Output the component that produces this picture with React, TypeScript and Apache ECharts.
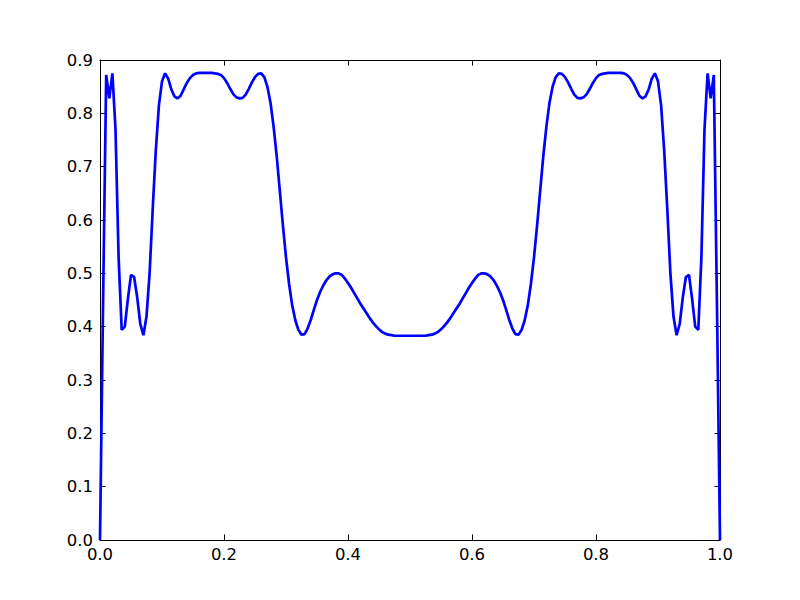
import React, { useEffect, useRef } from "react";
import * as echarts from "echarts";

// sample positions: 0 to 1 in steps of 0.005 (201 samples)
const X_STEP = 0.005;
const X_COUNT = 201;

const Y_VALUES: number[] = [
  0, 0.45, 0.872, 0.828, 0.875, 0.77, 0.53, 0.394, 0.40, 0.452,
  0.497, 0.493, 0.455, 0.405, 0.384, 0.419, 0.50, 0.62, 0.73, 0.815,
  0.86, 0.875, 0.865, 0.845, 0.832, 0.828, 0.833, 0.845, 0.857, 0.866,
  0.872, 0.875, 0.876, 0.876, 0.876, 0.876, 0.876, 0.875, 0.874, 0.872,
  0.866, 0.857, 0.846, 0.836, 0.83, 0.828, 0.829, 0.835, 0.846, 0.858,
  0.868, 0.874, 0.875, 0.868, 0.85, 0.82, 0.775, 0.72, 0.655, 0.59,
  0.53, 0.48, 0.44, 0.412, 0.394, 0.385, 0.386, 0.397, 0.413, 0.432,
  0.45, 0.465, 0.477, 0.487, 0.494, 0.498, 0.5, 0.5, 0.497, 0.49,
  0.482, 0.473, 0.463, 0.453, 0.443, 0.434, 0.425, 0.416, 0.408, 0.401,
  0.395, 0.39, 0.387, 0.385, 0.384, 0.383, 0.383, 0.383, 0.383, 0.383,
  0.383,
  0.383, 0.383, 0.383, 0.383, 0.383, 0.384, 0.385, 0.387, 0.39, 0.395,
  0.401, 0.408, 0.416, 0.425, 0.434, 0.443, 0.453, 0.463, 0.473, 0.482,
  0.49, 0.497, 0.5, 0.5, 0.498, 0.494, 0.487, 0.477, 0.465, 0.45,
  0.432, 0.413, 0.397, 0.386, 0.385, 0.394, 0.412, 0.44, 0.48, 0.53,
  0.59, 0.655, 0.72, 0.775, 0.82, 0.85, 0.868, 0.875, 0.874, 0.868,
  0.858, 0.846, 0.835, 0.829, 0.828, 0.83, 0.836, 0.846, 0.857, 0.866,
  0.872, 0.874, 0.875, 0.876, 0.876, 0.876, 0.876, 0.876, 0.875, 0.872,
  0.866, 0.857, 0.845, 0.833, 0.828, 0.832, 0.845, 0.865, 0.875, 0.86,
  0.815, 0.73, 0.62, 0.50, 0.419, 0.384, 0.405, 0.455, 0.493, 0.497,
  0.452, 0.40, 0.394, 0.53, 0.77, 0.875, 0.828, 0.872, 0.45, 0,
];

const X_TICKS = [0, 0.2, 0.4, 0.6, 0.8, 1.0];
const Y_TICKS = [0, 0.1, 0.2, 0.3, 0.4, 0.5, 0.6, 0.7, 0.8, 0.9];

export default function App() {
  const ref = useRef<HTMLDivElement>(null);

  useEffect(() => {
    if (!ref.current) return;
    const chart = echarts.init(ref.current, undefined, { renderer: "svg" });
    const data: [number, number][] = [];
    for (let i = 0; i < X_COUNT; i++) {
      data.push([Math.round(i * X_STEP * 1000) / 1000, Y_VALUES[i]]);
    }
    const font = "DejaVu Sans";
    const labelStyle = { color: "#000", fontFamily: font, fontSize: 16.5 };
    const axisCommon = {
      axisLine: { show: true, onZero: false, lineStyle: { color: "#000", width: 1 } },
      axisTick: { show: true, inside: true, length: 5.5, lineStyle: { color: "#000", width: 1 } },
      splitLine: { show: false },
    };
    chart.setOption({
      animation: false,
      backgroundColor: "#fff",
      grid: { left: 100, right: 80, top: 60, bottom: 60, containLabel: false },
      xAxis: [
        {
          type: "value",
          min: X_TICKS[0],
          max: X_TICKS[X_TICKS.length - 1],
          interval: 0.2,
          position: "bottom",
          ...axisCommon,
          axisLabel: { ...labelStyle, margin: 6, formatter: (v: number) => v.toFixed(1) },
        },
        {
          type: "value",
          min: X_TICKS[0],
          max: X_TICKS[X_TICKS.length - 1],
          interval: 0.2,
          position: "top",
          ...axisCommon,
          axisLabel: { show: false },
        },
      ],
      yAxis: [
        {
          type: "value",
          min: Y_TICKS[0],
          max: Y_TICKS[Y_TICKS.length - 1],
          interval: 0.1,
          position: "left",
          ...axisCommon,
          axisLabel: { ...labelStyle, margin: 7, formatter: (v: number) => v.toFixed(1) },
        },
        {
          type: "value",
          min: Y_TICKS[0],
          max: Y_TICKS[Y_TICKS.length - 1],
          interval: 0.1,
          position: "right",
          ...axisCommon,
          axisLabel: { show: false },
        },
      ],
      series: [
        {
          type: "line",
          data,
          xAxisIndex: 0,
          yAxisIndex: 0,
          showSymbol: false,
          symbol: "none",
          lineStyle: { color: "#0000ff", width: 2.7 },
          itemStyle: { color: "#0000ff" },
          z: 1,
        },
      ],
    });
    return () => chart.dispose();
  }, []);

  return <div ref={ref} style={{ width: 800, height: 600, position: "absolute", left: 0, top: 0 }} />;
}
